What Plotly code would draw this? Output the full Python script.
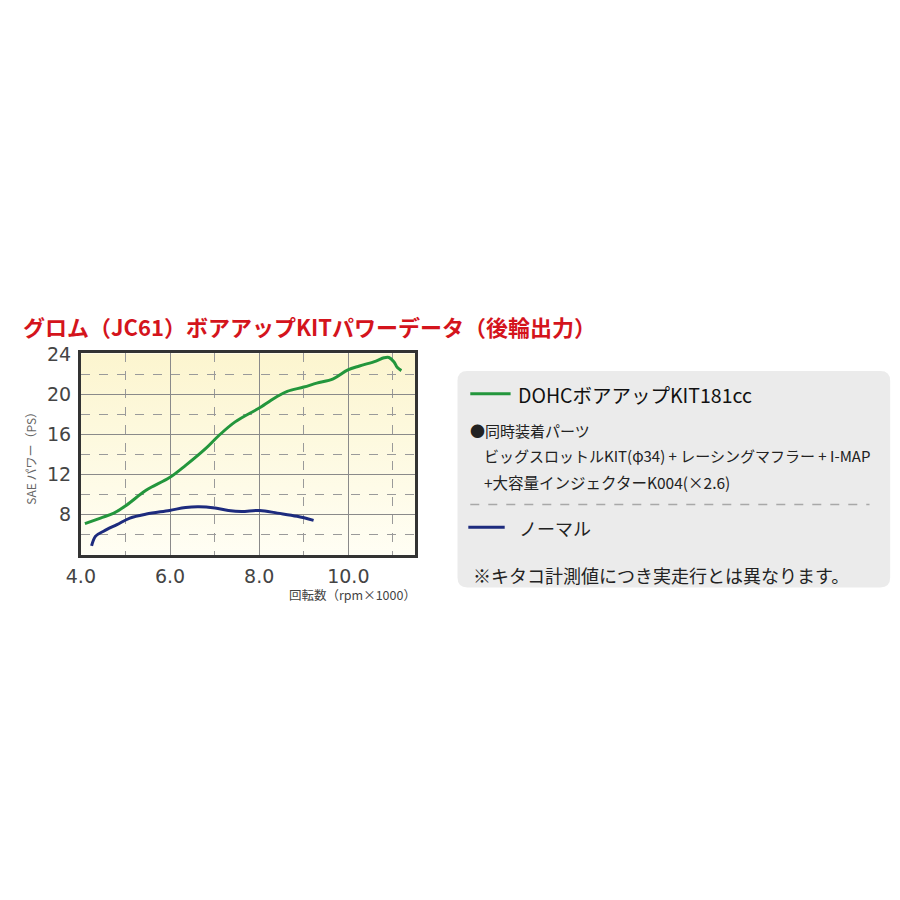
"""Power curve: Grom (JC61) bore-up kit vs stock, rear-wheel output."""

import plotly.graph_objects as go

W, H = 900, 900

# ---- data ------------------------------------------------------------------
kit_rpm = [4.09, 4.44, 4.74, 5.03, 5.47, 5.99, 6.35, 6.79, 7.09, 7.46, 8.01,
           8.41, 8.63, 9.00, 9.29, 9.66, 9.99, 10.25, 10.62, 10.80, 10.91,
           11.02, 11.10, 11.19]
kit_ps = [7.11, 7.67, 8.16, 8.98, 10.46, 11.70, 12.92, 14.56, 15.87, 17.25,
          18.66, 19.80, 20.30, 20.72, 21.11, 21.54, 22.43, 22.82, 23.31,
          23.64, 23.67, 23.25, 22.66, 22.36]

normal_rpm = [4.24, 4.33, 4.51, 4.81, 5.10, 5.47, 5.99, 6.35, 6.65, 7.01,
              7.31, 7.60, 8.01, 8.41, 8.85, 9.22]
normal_ps = [4.89, 5.87, 6.36, 7.02, 7.67, 8.07, 8.43, 8.72, 8.79, 8.66,
             8.43, 8.33, 8.43, 8.16, 7.84, 7.44]

x_ticks = [4, 6, 8, 10]
x_tick_labels = ["4.0", "6.0", "8.0", "10.0"]
x_minor = [5, 7, 9, 11]
y_ticks = [8, 12, 16, 20, 24]
y_tick_labels = ["8", "12", "16", "20", "24"]
y_minor = [6, 10, 14, 18, 22]

X_RANGE = [4.0, 11.5]
Y_RANGE = [4.0, 24.1]

GREEN = "#23963c"
NAVY = "#1d2b7e"
RED = "#d4141c"
FONT = "Noto Sans CJK JP"
NUM_FONT = "DejaVu Sans"

# light yellow wash behind the plot area (top darker than bottom)
BG_SVG = (
    "data:image/svg+xml;utf8,"
    "<svg xmlns='http://www.w3.org/2000/svg' width='10' height='100' "
    "preserveAspectRatio='none'><defs><linearGradient id='g' x1='0' y1='0' "
    "x2='0' y2='1'><stop offset='0' stop-color='%23fcf5cf'/>"
    "<stop offset='1' stop-color='%23fffef4'/></linearGradient></defs>"
    "<rect width='10' height='100' fill='url(%23g)'/></svg>"
)


def px(x):
    return x / W


def py(y):
    return 1 - y / H


fig = go.Figure()

fig.add_trace(go.Scatter(x=normal_rpm, y=normal_ps, mode="lines",
                         line=dict(color=NAVY, width=3, shape="spline"),
                         name="ノーマル", showlegend=False))
fig.add_trace(go.Scatter(x=kit_rpm, y=kit_ps, mode="lines",
                         line=dict(color=GREEN, width=3, shape="spline"),
                         name="DOHCボアアップKIT181cc", showlegend=False))

fig.add_layout_image(
    source=BG_SVG, xref="x", yref="y",
    x=X_RANGE[0], y=Y_RANGE[1],
    sizex=X_RANGE[1] - X_RANGE[0], sizey=Y_RANGE[1] - Y_RANGE[0],
    sizing="stretch", layer="below", xanchor="left", yanchor="top",
)

fig.update_xaxes(
    domain=[px(67), px(407)], range=X_RANGE,
    tickmode="array", tickvals=x_ticks, ticktext=x_tick_labels,
    tickfont=dict(family=NUM_FONT, size=19, color="#444444"),
    ticklabelstandoff=2,
    showgrid=True, gridcolor="#8a8a8a", gridwidth=1,
    minor=dict(tickmode="array", tickvals=x_minor, showgrid=True,
               gridcolor="#9a9a9a", griddash="dash", gridwidth=1),
    showline=True, linecolor="#333333", linewidth=3, mirror=True,
    ticks="", zeroline=False, fixedrange=True,
)
fig.update_yaxes(
    domain=[py(551), py(347)], range=Y_RANGE,
    tickmode="array", tickvals=y_ticks, ticktext=y_tick_labels,
    tickfont=dict(family=NUM_FONT, size=19, color="#444444"),
    ticklabelstandoff=3,
    showgrid=True, gridcolor="#8a8a8a", gridwidth=1,
    minor=dict(tickmode="array", tickvals=y_minor, showgrid=True,
               gridcolor="#9a9a9a", griddash="dash", gridwidth=1),
    showline=True, linecolor="#333333", linewidth=3, mirror=True,
    ticks="", zeroline=False, fixedrange=True,
)

annotations = [
    dict(text="<b>グロム（JC61）ボアアップKITパワーデータ（後輪出力）</b>",
         x=px(6), y=py(320), xanchor="left", yanchor="middle",
         font=dict(family=FONT, size=22, color=RED)),
    dict(text="SAE パワー（PS）", x=px(15), y=py(450), textangle=-90,
         xanchor="center", yanchor="middle",
         font=dict(family=FONT, size=12, color="#666666")),
    dict(text="回転数（rpm×1000）", x=px(410), y=py(591),
         xanchor="right", yanchor="middle",
         font=dict(family=FONT, size=12.5, color="#444444")),
    # legend panel
    dict(text="DOHCボアアップKIT181cc", x=px(509), y=py(389),
         xanchor="left", yanchor="middle",
         font=dict(family=FONT, size=19.5, color="#111111")),
    dict(text="●同時装着パーツ", x=px(461), y=py(425),
         xanchor="left", yanchor="middle",
         font=dict(family=FONT, size=15, color="#222222")),
    dict(text="ビッグスロットルKIT(φ34) + レーシングマフラー + I-MAP",
         x=px(475), y=py(450), xanchor="left", yanchor="middle",
         font=dict(family=FONT, size=15, color="#222222")),
    dict(text="+大容量インジェクターK004(×2.6)",
         x=px(475), y=py(477), xanchor="left", yanchor="middle",
         font=dict(family=FONT, size=15.5, color="#222222")),
    dict(text="ノーマル", x=px(511), y=py(524),
         xanchor="left", yanchor="middle",
         font=dict(family=FONT, size=18, color="#222222")),
    dict(text="※キタコ計測値につき実走行とは異なります。",
         x=px(464), y=py(571), xanchor="left", yanchor="middle",
         font=dict(family=FONT, size=18, color="#222222")),
]
for a in annotations:
    a.update(xref="paper", yref="paper", showarrow=False)


def rounded_rect(x0, y0, x1, y1, r):
    X0, X1 = px(x0), px(x1)
    Y0, Y1 = py(y0), py(y1)
    rx, ry = r / W, r / H
    return (f"M {X0 + rx},{Y0} L {X1 - rx},{Y0} Q {X1},{Y0} {X1},{Y0 - ry} "
            f"L {X1},{Y1 + ry} Q {X1},{Y1} {X1 - rx},{Y1} "
            f"L {X0 + rx},{Y1} Q {X0},{Y1} {X0},{Y1 + ry} "
            f"L {X0},{Y0 - ry} Q {X0},{Y0} {X0 + rx},{Y0} Z")


shapes = [
    dict(type="path", path=rounded_rect(450, 365, 890, 584, 10),
         fillcolor="#ebebeb", line=dict(width=0), layer="below"),
    dict(type="line", x0=px(463), x1=px(504), y0=py(388), y1=py(388),
         line=dict(color=GREEN, width=3)),
    dict(type="line", x0=px(463), x1=px(869), y0=py(500), y1=py(500),
         line=dict(color="#a8a8a8", width=1.5, dash="dash")),
    dict(type="line", x0=px(461), x1=px(498), y0=py(523), y1=py(523),
         line=dict(color=NAVY, width=3)),
]
for s in shapes:
    s.update(xref="paper", yref="paper")

fig.update_layout(
    width=W, height=H, autosize=False,
    margin=dict(l=0, r=0, t=0, b=0),
    paper_bgcolor="white", plot_bgcolor="rgba(0,0,0,0)",
    font=dict(family=FONT),
    annotations=annotations, shapes=shapes,
    showlegend=False,
)

fig.write_html("out.html", config={"displayModeBar": False},
               post_script="document.body.style.margin='0';")
